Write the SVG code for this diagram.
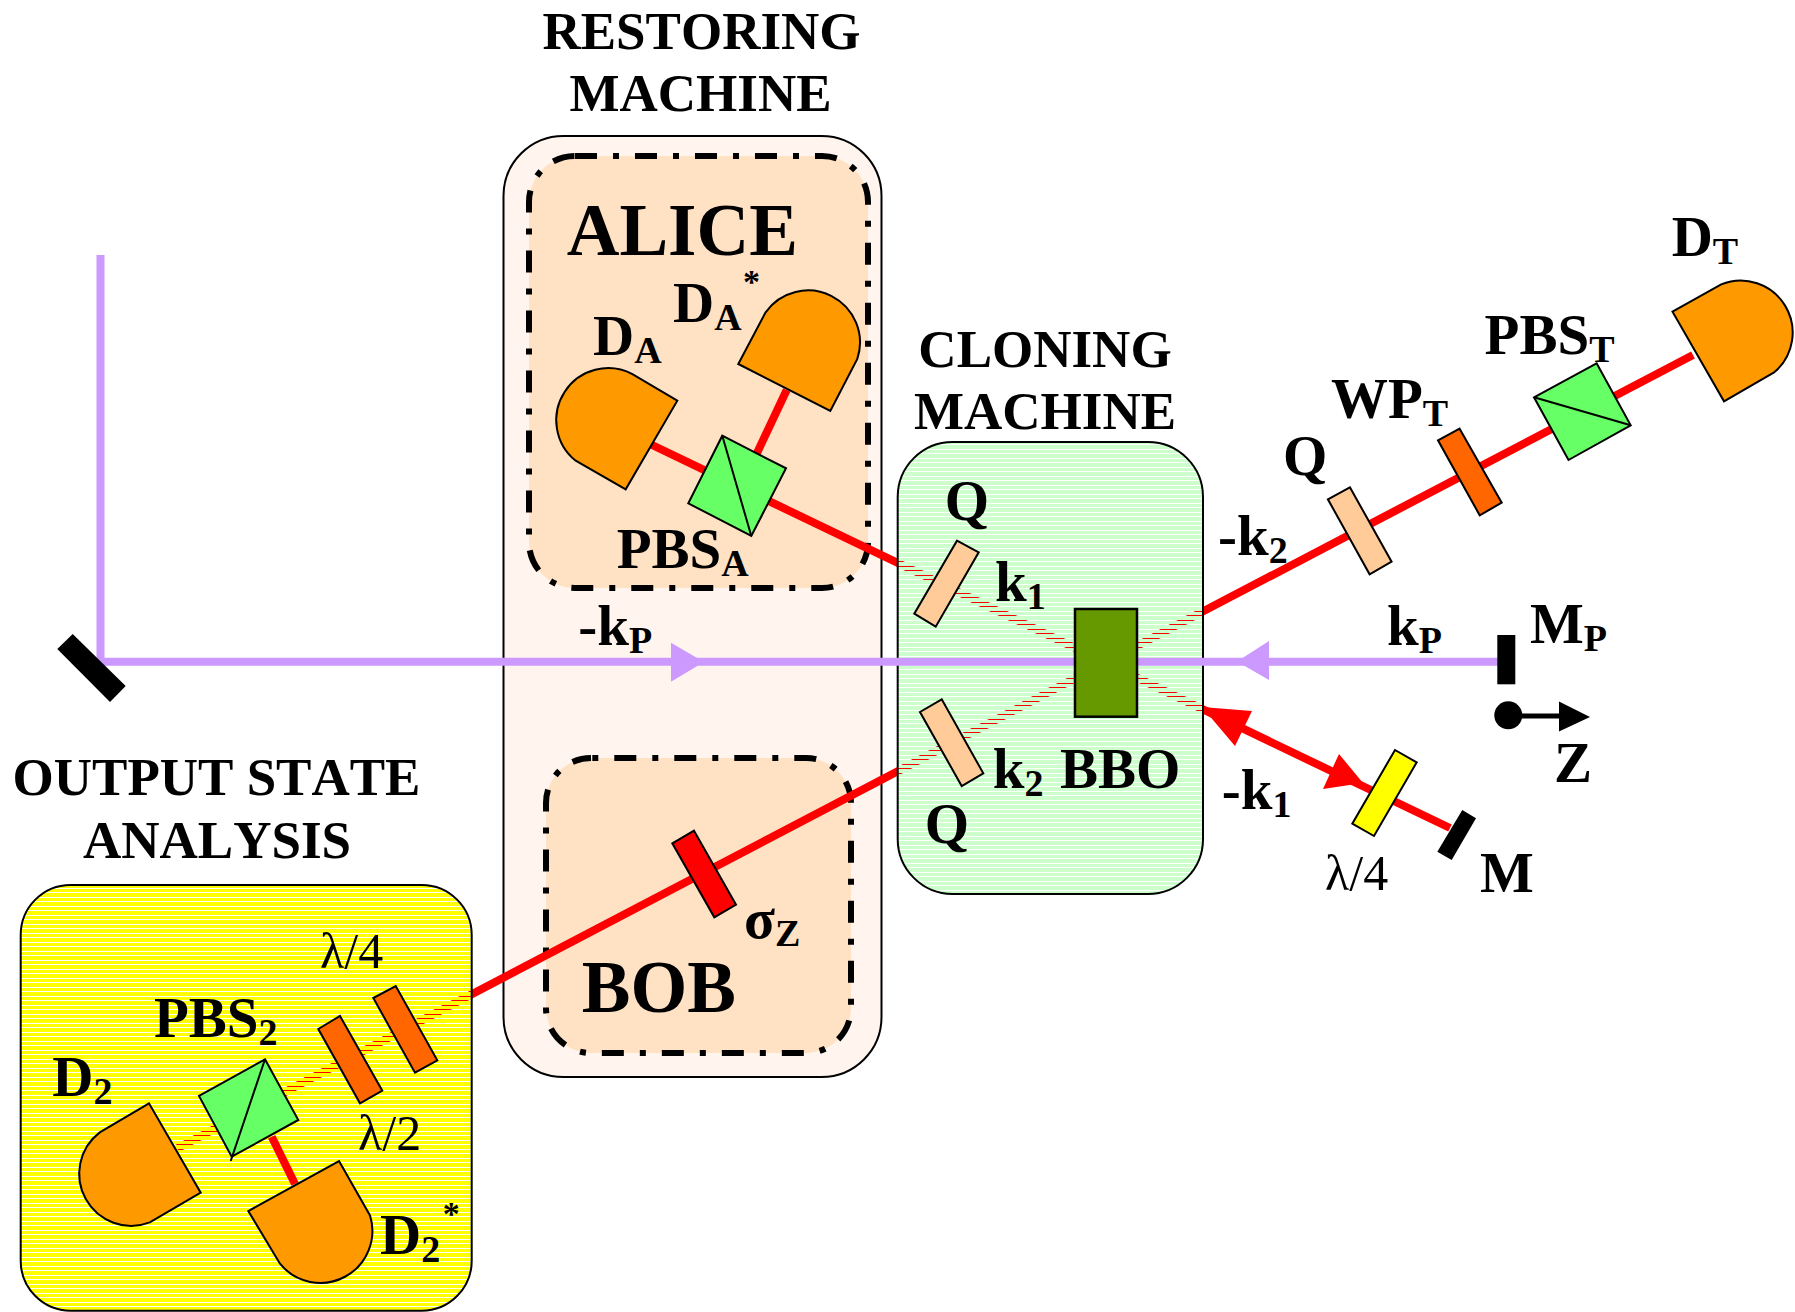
<svg xmlns="http://www.w3.org/2000/svg" width="1795" height="1312" viewBox="0 0 1795 1312">
<style>
.t{font-family:"Liberation Serif","Times New Roman",serif;font-weight:bold;font-size:57px;fill:#000;font-kerning:none}
.h{font-size:53px;text-anchor:middle}
.big{font-size:73px}
.s{font-size:38px}
.st{font-size:34px}
.l{font-family:"Liberation Serif","Times New Roman",serif;font-size:50px;fill:#000;font-kerning:none}
.o{stroke:#000;stroke-width:2;stroke-linejoin:miter}
.q{fill:#FFCC99}.wp{fill:#FF6600}.pbs{fill:#66FF66}.det{fill:#FF9900}
.box{stroke:#000;stroke-width:2}
.dd{fill:#FFE1C4;stroke:#000;stroke-width:6;stroke-dasharray:22 16 6 16}
.red{stroke:#FF0000;stroke-width:8;fill:none}
.pump{stroke:#CC99FF;stroke-width:8;fill:none}
</style>
<defs>
<pattern id="gs" patternUnits="userSpaceOnUse" width="9" height="9"><path d="M0 0H9V3H0ZM0 4H9V8H0Z" fill="#CCFFCC" shape-rendering="crispEdges"/></pattern>
<pattern id="ys" patternUnits="userSpaceOnUse" width="9" height="9"><path d="M0 0H9V1H0ZM0 2H9V6H0ZM0 7H9V9H0Z" fill="#FFFF00" shape-rendering="crispEdges"/></pattern>
</defs>

<g id="restoring-machine">
<rect class="box" x="503.5" y="136" width="378" height="941" rx="60" fill="#FFF5EE"/>
<text class="t h" x="701.5" y="49">RESTORING</text>
<text class="t h" x="700.5" y="111">MACHINE</text>
</g>
<g id="alice-box">
<rect class="dd" x="529" y="156" width="339" height="432" rx="46"/>
</g>
<g id="bob-box">
<rect class="dd" x="546" y="758" width="305" height="295" rx="45" stroke-dashoffset="36.7"/>
</g>

<g id="connectors-signal">
<path class="red" d="M650 444L1450 828"/>
<path class="red" d="M1693 355L177 1148.5"/>
<path class="red" d="M786.7 390L757 453"/>
<polygon fill="#FF0000" points="1202,707 1252,711 1235,746"/>
<polygon fill="#FF0000" points="1363,783 1339,754 1323,789"/>
</g>

<g id="cloning-machine">
<rect class="box" x="897.7" y="442" width="305.3" height="452" rx="55" fill="url(#gs)"/>
<text class="t h" x="1045" y="367">CLONING</text>
<text class="t h" x="1045" y="429">MACHINE</text>
</g>
<g id="output-analysis">
<rect class="box" x="20.7" y="885" width="451" height="425.7" rx="50" fill="url(#ys)"/>
<text class="t h" x="216.5" y="795">OUTPUT STATE</text>
<text class="t h" x="217" y="857.7">ANALYSIS</text>
</g>

<g id="connectors-pump">
<path class="pump" d="M100.5 255V661.8H1500"/>
<polygon fill="#CC99FF" points="671,642.7 704,662 671,681.7"/>
<polygon fill="#CC99FF" points="1269,641 1237,661.5 1269,680"/>
<path class="red" d="M271.7 1136.7L295 1184"/>
<path d="M1508 716H1562" stroke="#000" stroke-width="5"/>
<polygon points="1559,701.5 1590,717 1559,731.5"/>
<circle cx="1508.3" cy="715.3" r="14"/>
</g>

<g id="bbo"><rect x="1075" y="609" width="62" height="107.7" fill="#669900" stroke="#000" stroke-width="2.5"/><text class="t" x="1060" y="788">BBO</text></g>
<g id="q1"><polygon class="o q" points="957,540.7 978.7,552.3 935.7,626.7 914.3,613.7"/><text class="t" x="944.7" y="520">Q</text></g>
<g id="q2"><polygon class="o q" points="941.7,699.3 983.3,773.3 961.7,786 920,712"/><text class="t" x="924.7" y="843">Q</text></g>
<g id="q3"><polygon class="o q" points="1349.9,487.3 1391.6,561.7 1369.6,574.3 1327.9,499.3"/><text class="t" x="1283" y="475">Q</text></g>
<g id="wpt"><polygon class="o wp" points="1459.6,428.7 1501.7,502.7 1479.7,515.3 1438,440.3"/><text class="t" x="1331" y="418">WP<tspan class="s" dy="8">T</tspan></text></g>
<g id="pbst"><polygon class="o pbs" points="1596.6,363.3 1630.7,425.3 1568.5,460 1534,397.3"/><path class="o" d="M1534 397.3L1630.7 425.3"/><text class="t" x="1484.6" y="354">PBS<tspan class="s" dy="8">T</tspan></text></g>
<g id="dt"><path class="o det" d="M1672.5 311.7L1721.2 284.4A52 52 0 0 1 1774.5 372.1L1724 401.3Z"/><text class="t" x="1671.7" y="256">D<tspan class="s" dy="8">T</tspan></text></g>

<g id="da"><path class="o det" d="M677.3 400.7L632.4 374.1A52 52 0 0 0 575.7 460.7L625.7 489.3Z"/><text class="t" x="593" y="355">D<tspan class="s" dy="8">A</tspan></text></g>
<g id="da-star"><path class="o det" d="M738.3 364L765.6 312.3A52 52 0 0 1 857.3 358.9L830.3 411Z"/><text class="t" x="673" y="322">D<tspan class="s" dy="8">A</tspan><tspan class="st" x="743" y="293">*</tspan></text></g>
<g id="pbsa"><polygon class="o pbs" points="722.3,435.7 786,468.3 751.3,536 688.3,503.3"/><path class="o" d="M722.3 435.7L751.3 536"/><text class="t" x="616.7" y="567.7">PBS<tspan class="s" dy="8">A</tspan></text></g>
<g id="alice-label"><text class="t big" x="566.7" y="255">ALICE</text></g>
<g id="bob-label"><text class="t big" x="581.7" y="1011.7">BOB</text></g>
<g id="sigma"><polygon class="o" fill="#FF0000" points="694,830.7 736,904.7 714.3,917.3 672.3,843.3"/><text class="t" x="744" y="938">σ<tspan class="s" dy="8">Z</tspan></text></g>

<g id="d2"><path class="o det" d="M149 1103.3L99.8 1132.4A52 52 0 0 0 149.8 1222.4L200.7 1192.7Z"/><text class="t" x="52.3" y="1096">D<tspan class="s" dy="8">2</tspan></text></g>
<g id="d2-star"><path class="o det" d="M339 1161L370 1215.4A52 52 0 0 1 280 1263.7L248.3 1211Z"/><text class="t" x="380" y="1254">D<tspan class="s" dy="8">2</tspan><tspan class="st" x="442.7" y="1225">*</tspan></text></g>
<g id="pbs2"><polygon class="o pbs" points="265,1059.3 298.3,1120 231.7,1156.7 199,1096"/><path class="o" d="M265 1059.3L230.7 1161"/><text class="t" x="154" y="1036.7">PBS<tspan class="s" dy="8">2</tspan></text></g>
<g id="hwp"><polygon class="o wp" points="340,1016 382.3,1090.7 360,1103.3 318.3,1029"/><text class="l" x="358" y="1150">λ/2</text></g>
<g id="qwp"><polygon class="o wp" points="395.7,986 437.3,1060.3 415,1072.7 373.3,998"/><text class="l" x="320" y="968.3">λ/4</text></g>

<g id="qwp-m"><polygon class="o" fill="#FFFF00" points="1395,750 1416.7,762.3 1374,836 1352.3,823.7"/><text class="l" x="1325" y="890">λ/4</text></g>
<g id="m"><polygon points="1462.3,810 1476,818.3 1451.7,860 1437.3,851.7"/><text class="t" x="1480" y="891.7">M</text></g>
<g id="mp"><rect x="1497.3" y="635" width="18" height="49.3"/><text class="t" x="1530" y="642.7">M<tspan class="s" dy="8">P</tspan></text></g>
<g id="mirror"><polygon points="72.7,634 125.7,686 110,702 57.3,649"/></g>

<g id="labels">
<text class="t" x="995" y="601">k<tspan class="s" dy="8">1</tspan></text>
<text class="t" x="992.7" y="788">k<tspan class="s" dy="8">2</tspan></text>
<text class="t" x="1218" y="555">-k<tspan class="s" dy="8">2</tspan></text>
<text class="t" x="1221.7" y="809">-k<tspan class="s" dy="8">1</tspan></text>
<text class="t" x="1387" y="645">k<tspan class="s" dy="8">P</tspan></text>
<text class="t" x="578.3" y="645">-k<tspan class="s" dy="8">P</tspan></text>
<text class="t" x="1554" y="781.7">Z</text>
</g>
</svg>
